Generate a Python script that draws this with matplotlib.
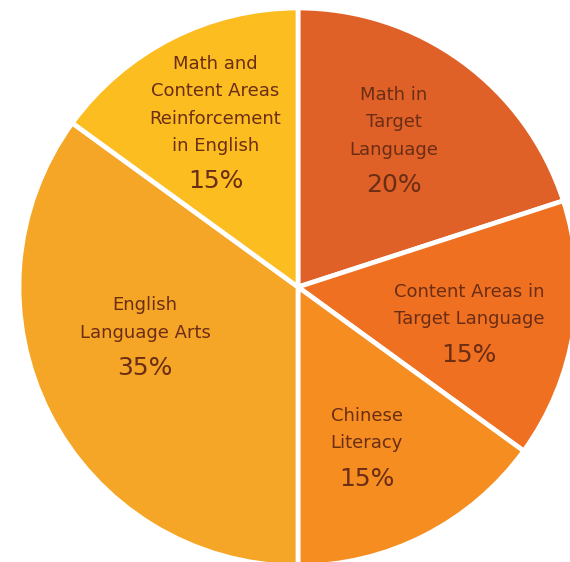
import numpy as np
import matplotlib
matplotlib.use("Agg")
import matplotlib.pyplot as plt

# slices clockwise from 12 o'clock
names = [
    "Math in\nTarget\nLanguage",
    "Content Areas in\nTarget Language",
    "Chinese\nLiteracy",
    "English\nLanguage Arts",
    "Math and\nContent Areas\nReinforcement\nin English",
]
shares = [20, 15, 15, 35, 15]
colors = ["#DF6128", "#F07022", "#F58D21", "#F6A627", "#FBBD20"]

# where the percentage sits: (angle in degrees, fraction of radius)
pct_pos = [(46.8, 0.50), (-21.6, 0.66), (-70.3, 0.73), (207.9, 0.62), (128.0, 0.48)]

W, H = 570, 562
cx, cy, R = 298, H - 287, 279
text_color = "#6B2D14"

fig = plt.figure(figsize=(W / 100, H / 100), dpi=100)
ax = fig.add_axes([0, 0, 1, 1])

ax.pie(
    shares,
    colors=colors,
    startangle=90,
    counterclock=False,
    center=(cx, cy),
    radius=R,
    wedgeprops=dict(edgecolor="white", linewidth=3.4),
    frame=True,
)
ax.set_xlim(0, W)
ax.set_ylim(0, H)
ax.set_aspect("equal")
ax.axis("off")

for name, share, (ang, frac) in zip(names, shares, pct_pos):
    t = np.deg2rad(ang)
    x = cx + frac * R * np.cos(t)
    y = cy + frac * R * np.sin(t)
    ax.text(x, y, f"{share}%", ha="center", va="center",
            fontsize=18, color=text_color, family="DejaVu Sans")
    ax.annotate(name, xy=(x, y), xytext=(0, 19), textcoords="offset points",
                ha="center", va="bottom", multialignment="center",
                fontsize=13, color=text_color, linespacing=1.68,
                family="DejaVu Sans")

fig.savefig("out.png", dpi=100)
